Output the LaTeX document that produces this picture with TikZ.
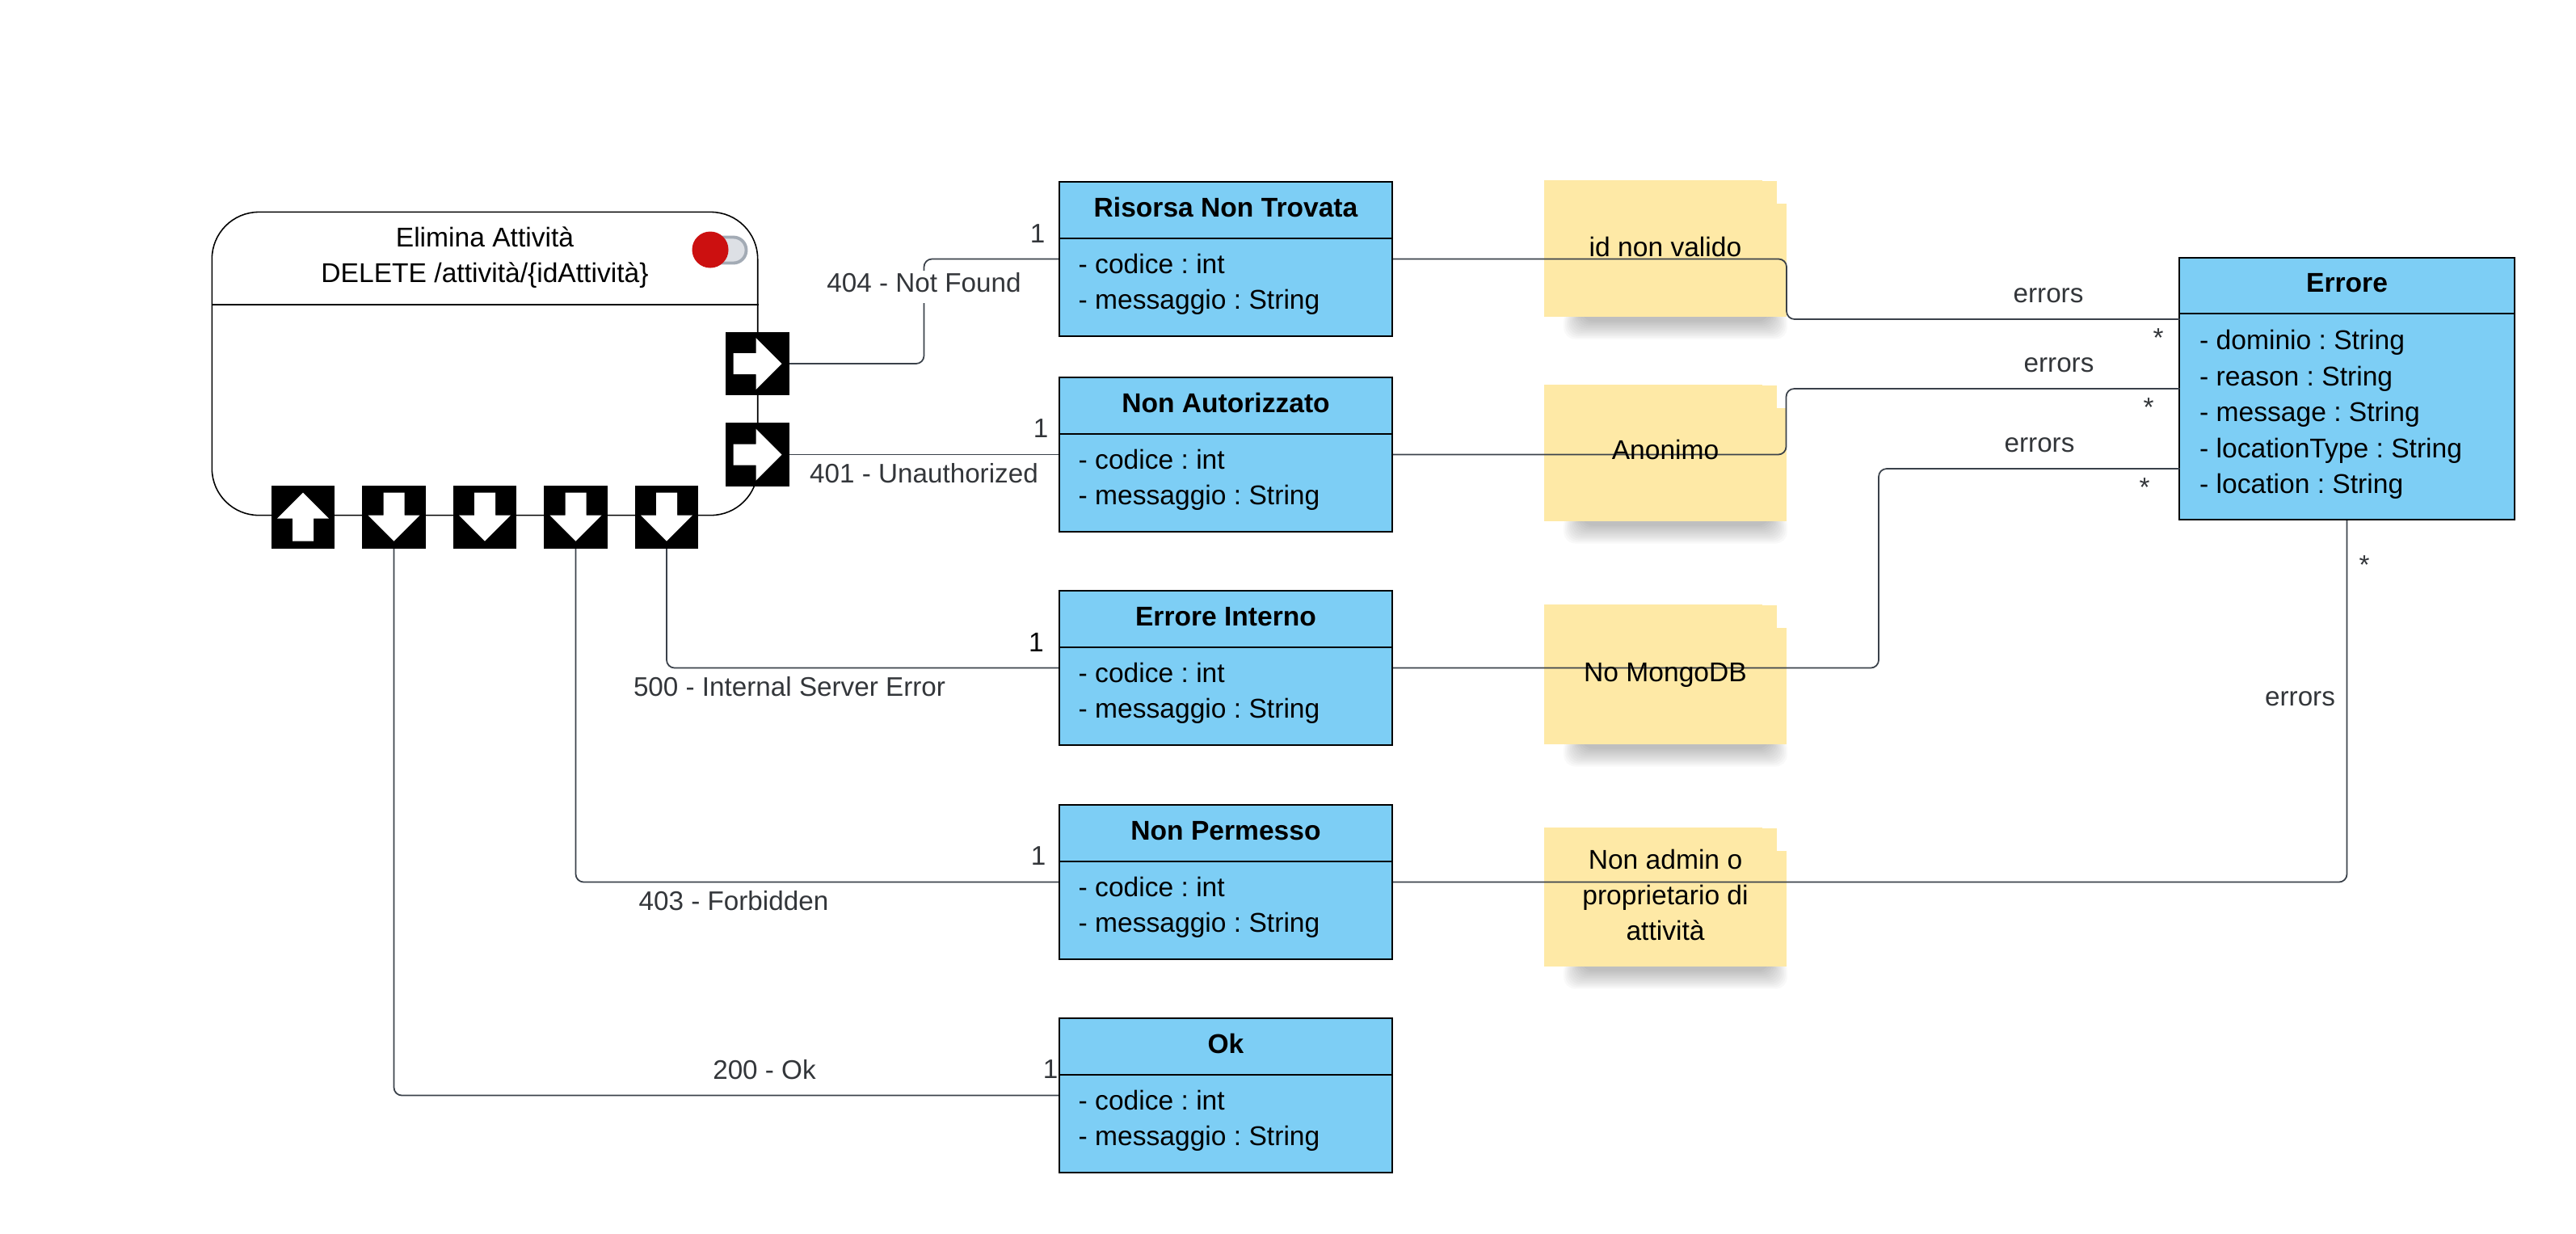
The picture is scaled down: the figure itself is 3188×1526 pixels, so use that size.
\documentclass[tikz,border=0pt]{standalone}
\usepackage{fontspec}
\usetikzlibrary{backgrounds}
\setmainfont{Liberation Sans}
\frenchspacing
\definecolor{classblue}{RGB}{125,206,245}
\definecolor{stickyyellow}{RGB}{254,233,166}
\definecolor{connectgray}{RGB}{58,65,74}
\definecolor{labelgray}{RGB}{51,54,58}
\definecolor{lampred}{RGB}{204,16,16}
\definecolor{lampgray}{RGB}{221,224,229}
\definecolor{lampedge}{RGB}{163,171,181}
\newcommand\stickydecor[1]{
\fill[white] ([shift={(-31,-1)}]#1.north east) rectangle ([shift={(1,2)}]#1.north east);
\fill[white] ([shift={(-13,-1)}]#1.north east) rectangle ([shift={(1,30)}]#1.north east);
\begin{pgfonlayer}{background}
\foreach \s in {0,2,...,22} {
\fill[black,opacity=.025,rounded corners=4pt] ([shift={(25+\s,-10)}]#1.south west) rectangle ([shift={(-\s,27-\s)}]#1.south east);
}
\end{pgfonlayer}
}
\tikzset{
basefont/.style={font=\fontsize{9.55}{12.5}\selectfont,inner sep=0pt},
statebox/.style={draw=black,line width=.45pt,rounded corners=16.5pt,minimum width=6.75cm,minimum height=3.75cm,inner sep=0pt},
portbox/.style={fill=black,minimum size=.78cm,inner sep=0pt},
portright/.style={portbox,path picture={\fill[white,shift={(path picture bounding box.center)}] (-30,-13) -- (-2,-13) -- (-2,-32) -- (30,0) -- (-2,32) -- (-2,13) -- (-30,13) -- cycle;}},
portdown/.style={portbox,path picture={\fill[white,shift={(path picture bounding box.center)}] (-13,-30) -- (-13,-2) -- (-32,-2) -- (0,30) -- (32,-2) -- (13,-2) -- (13,-30) -- cycle;}},
portup/.style={portbox,path picture={\fill[white,shift={(path picture bounding box.center)}] (-13,30) -- (-13,2) -- (-32,2) -- (0,-30) -- (32,2) -- (13,2) -- (13,30) -- cycle;}},
classbox/.style={draw=black,fill=classblue,line width=.6pt,minimum width=4.12cm,minimum height=1.91cm,inner sep=0pt},
classline/.style={draw=black,line width=.4pt},
classtitle/.style={basefont,anchor=base,font=\fontsize{9.55}{12.5}\selectfont\bfseries},
classattr/.style={basefont,anchor=west,align=left},
stickynote/.style={fill=stickyyellow,minimum width=3cm,inner sep=0pt},
stickytext/.style={basefont,anchor=base},
conn/.style={draw=connectgray,line width=.5pt,rounded corners=2.8pt},
linklabel/.style={basefont,anchor=base,text=labelgray,font=\fontsize{9.45}{12.5}\selectfont},
}
\begin{document}
\begin{tikzpicture}[x=0.01cm,y=-0.01cm]
\useasboundingbox (0,0) rectangle (3188,1526);
\node[statebox] (elimina) at (600,450) {};
\draw[line width=.55pt] ([shift={(0,115)}]elimina.north west) -- ([shift={(0,115)}]elimina.north east);
\node[basefont,align=center] (eliminaT) at (600,319) {Elimina Attività\\DELETE /attività/\{idAttività\}};
\draw[draw=lampedge,fill=lampgray,line width=1.1pt,rounded corners=4.5pt] (870,293.5) rectangle (923.5,325.5);
\node[circle,fill=lampred,minimum size=.45cm,inner sep=0pt] (lamp) at (879,309) {};
\node[portright] (port404) at (937.5,450) {};
\node[portright] (port401) at (937.5,562.5) {};
\node[portup] (portIn) at (375,639.5) {};
\node[portdown] (port200) at (487.5,639.5) {};
\node[portdown] (portMid) at (600,639.5) {};
\node[portdown] (port403) at (712.5,639.5) {};
\node[portdown] (port500) at (825,639.5) {};
\node[stickynote,minimum height=1.69cm] (note1) at (2061,307.5) {};
\stickydecor{note1}
\node[stickynote,minimum height=1.687cm] (note2) at (2061,560.4) {};
\stickydecor{note2}
\node[stickynote,minimum height=1.727cm] (note3) at (2061,834.4) {};
\stickydecor{note3}
\node[stickynote,minimum height=1.717cm] (note4) at (2061,1110) {};
\stickydecor{note4}
\node[classbox] (risorsa) at (1517,320.5) {};
\draw[classline] ([shift={(0,71)}]risorsa.north west) -- ([shift={(0,71)}]risorsa.north east);
\node[classtitle] (risorsaT) at (1517,268) {Risorsa Non Trovata};
\node[classattr] (risorsaA) at (1334,352) {- codice : int\\- messaggio : String};
\node[classbox] (nonaut) at (1517,562.5) {};
\draw[classline] ([shift={(0,71)}]nonaut.north west) -- ([shift={(0,71)}]nonaut.north east);
\node[classtitle] (nonautT) at (1517,510) {Non Autorizzato};
\node[classattr] (nonautA) at (1334,594) {- codice : int\\- messaggio : String};
\node[classbox] (interno) at (1517,826.5) {};
\draw[classline] ([shift={(0,71)}]interno.north west) -- ([shift={(0,71)}]interno.north east);
\node[classtitle] (internoT) at (1517,774) {Errore Interno};
\node[classattr] (internoA) at (1334,858) {- codice : int\\- messaggio : String};
\node[classbox] (nonperm) at (1517,1091.5) {};
\draw[classline] ([shift={(0,71)}]nonperm.north west) -- ([shift={(0,71)}]nonperm.north east);
\node[classtitle] (nonpermT) at (1517,1039) {Non Permesso};
\node[classattr] (nonpermA) at (1334,1123) {- codice : int\\- messaggio : String};
\node[classbox] (ok) at (1517,1355.5) {};
\draw[classline] ([shift={(0,71)}]ok.north west) -- ([shift={(0,71)}]ok.north east);
\node[classtitle] (okT) at (1517,1303) {Ok};
\node[classattr] (okA) at (1334,1387) {- codice : int\\- messaggio : String};
\node[classbox,minimum width=4.14cm,minimum height=3.24cm] (errore) at (2904.5,481) {};
\draw[classline,line width=.6pt] ([shift={(0,70.5)}]errore.north west) -- ([shift={(0,70.5)}]errore.north east);
\node[classtitle] (erroreT) at (2904.5,361) {Errore};
\node[classattr,font=\fontsize{9.55}{12.65}\selectfont] (erroreA) at (2721.5,513) {- dominio : String\\- reason : String\\- message : String\\- locationType : String\\- location : String};
\coordinate (errIn1) at (2697.5,395);
\coordinate (errIn2) at (2697.5,481);
\coordinate (errIn3) at (2697.5,580);
\coordinate (bend1) at (2211,360);
\coordinate (bend2) at (2210.5,520);
\coordinate (bend3) at (2325,700);
\node[linklabel,fill=white,text height=7.4pt,text depth=4pt] (lab404) at (1143.5,361) {404 - Not Found};
\begin{pgfonlayer}{background}
\draw[conn] (port404.east) -| (lab404.base) |- (risorsa.west);
\end{pgfonlayer}
\draw[conn] (port401.east) -- (nonaut.west);
\draw[conn] (port500.south) |- (interno.west);
\draw[conn] (port403.south) |- (nonperm.west);
\draw[conn] (port200.south) |- (ok.west);
\draw[conn] (risorsa.east) -| (bend1) |- (errIn1);
\draw[conn] (nonaut.east) -| (bend2) |- (errIn2);
\draw[conn] (interno.east) -| (bend3) |- (errIn3);
\draw[conn] (nonperm.east) -| (errore.south);
\node[stickytext] (note1T) at (2061,317) {id non valido};
\node[stickytext] (note2T) at (2061,568.5) {Anonimo};
\node[stickytext] (note3T) at (2061,843) {No MongoDB};
\node[basefont,align=center] (note4T) at (2061,1107.5) {Non admin o\\proprietario di\\attività};
\node[linklabel] (lab401) at (1143.5,597.5) {401 - Unauthorized};
\node[linklabel] (lab500) at (977,861) {500 - Internal Server Error};
\node[linklabel] (lab403) at (908,1126.5) {403 - Forbidden};
\node[linklabel] (lab200) at (946,1335.5) {200 - Ok};
\node[linklabel] (one404) at (1284,300.5) {1};
\node[linklabel] (one401) at (1288,541.5) {1};
\node[stickytext] (one500) at (1282.5,806) {1};
\node[linklabel] (one403) at (1285,1070) {1};
\node[linklabel] (one200) at (1300,1334) {1};
\node[linklabel] (errLab1) at (2535,374.5) {errors};
\node[linklabel] (errLab2) at (2548,460.5) {errors};
\node[linklabel] (errLab3) at (2524,559.5) {errors};
\node[linklabel] (errLab4) at (2846.5,873.5) {errors};
\node[linklabel] (star1) at (2671,429.5) {*};
\node[linklabel] (star2) at (2659,515.5) {*};
\node[linklabel] (star3) at (2654,614.5) {*};
\node[linklabel] (star4) at (2926,710) {*};
\end{tikzpicture}
\end{document}
